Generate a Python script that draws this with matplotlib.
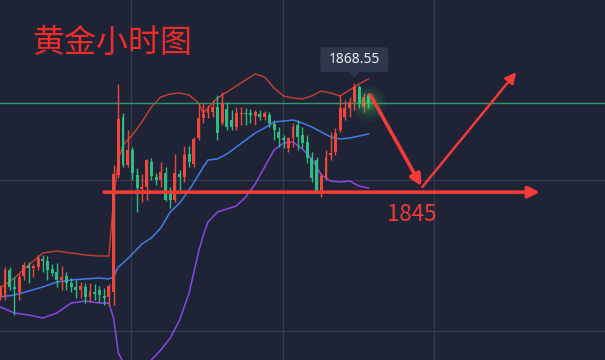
import matplotlib
matplotlib.use('Agg')
import matplotlib.pyplot as plt
from matplotlib.patches import FancyBboxPatch, Polygon
from matplotlib.transforms import ScaledTranslation

plt.rcParams['font.family'] = ['Noto Sans CJK SC', 'DejaVu Sans']

# ---------------- data ----------------
opens = [1822.35, 1822.35, 1828.18, 1824.51, 1823.43, 1826.88, 1829.04, 1828.72, 1828.83, 1830.56,
         1830.12, 1828.40, 1827.75, 1826.02, 1826.88, 1825.37, 1824.51, 1823.86, 1824.51, 1822.35,
         1823.43, 1823.86, 1822.46, 1822.35, 1823.43, 1848.70, 1861.23, 1850.86, 1854.10, 1848.70,
         1845.78, 1846.11, 1851.51, 1848.27, 1847.62, 1849.13, 1844.81, 1843.30, 1848.92, 1848.27,
         1853.24, 1851.08, 1856.69, 1861.01, 1862.09, 1862.31, 1863.39, 1859.93, 1862.96, 1860.58,
         1859.07, 1861.88, 1862.09, 1862.09, 1861.44, 1861.88, 1861.23, 1861.66, 1859.72, 1857.99,
         1856.69, 1854.53, 1856.69, 1859.50, 1857.34, 1855.83, 1852.37, 1851.94, 1845.03, 1848.27,
         1853.02, 1853.67, 1858.42, 1861.23, 1863.17, 1864.47, 1867.71, 1863.39, 1865.98]
closes = [1824.29, 1828.18, 1824.51, 1824.08, 1826.67, 1829.26, 1828.61, 1828.94, 1830.77, 1830.12,
          1828.18, 1827.53, 1826.02, 1826.67, 1825.37, 1824.51, 1823.86, 1824.72, 1822.35, 1823.64,
          1823.10, 1822.78, 1822.24, 1824.72, 1848.92, 1860.80, 1850.86, 1854.10, 1849.13, 1845.89,
          1846.00, 1851.94, 1848.48, 1847.62, 1849.35, 1843.30, 1843.30, 1849.13, 1848.27, 1853.02,
          1851.51, 1856.48, 1861.01, 1861.88, 1862.74, 1863.39, 1857.77, 1864.25, 1859.07, 1859.07,
          1862.09, 1862.09, 1861.77, 1861.66, 1862.31, 1861.23, 1862.09, 1859.93, 1858.42, 1856.69,
          1856.26, 1856.69, 1859.07, 1856.91, 1855.61, 1852.37, 1848.05, 1845.03, 1848.48, 1852.59,
          1853.45, 1857.77, 1863.17, 1863.17, 1864.47, 1867.71, 1864.25, 1865.55, 1864.25]
highs = [1824.94, 1828.83, 1828.83, 1826.67, 1827.32, 1829.90, 1829.90, 1829.47, 1831.42, 1831.42,
         1831.20, 1829.47, 1829.69, 1829.04, 1827.75, 1826.45, 1826.02, 1825.59, 1825.37, 1825.37,
         1825.16, 1824.72, 1824.29, 1825.16, 1850.86, 1868.36, 1862.09, 1858.42, 1854.75, 1850.21,
         1848.92, 1852.16, 1852.37, 1849.13, 1851.51, 1850.43, 1846.11, 1853.24, 1849.78, 1854.96,
         1854.96, 1856.91, 1864.04, 1864.25, 1863.82, 1864.90, 1865.98, 1866.63, 1864.47, 1862.74,
         1863.39, 1863.39, 1863.17, 1862.96, 1862.74, 1862.74, 1862.52, 1862.31, 1860.58, 1859.07,
         1857.34, 1856.91, 1859.93, 1860.58, 1859.07, 1857.34, 1853.67, 1852.59, 1849.13, 1854.10,
         1857.99, 1858.85, 1865.98, 1864.90, 1865.55, 1868.55, 1868.14, 1866.41, 1866.41]
lows = [1821.70, 1821.70, 1823.86, 1818.46, 1821.70, 1826.02, 1825.37, 1826.67, 1828.18, 1827.75,
        1826.02, 1826.88, 1824.51, 1823.86, 1823.86, 1823.43, 1822.13, 1822.13, 1821.05, 1821.27,
        1821.70, 1821.27, 1820.62, 1820.62, 1820.62, 1848.05, 1850.43, 1850.43, 1847.62, 1840.71,
        1842.87, 1843.30, 1847.62, 1846.54, 1846.11, 1843.08, 1841.57, 1842.87, 1845.46, 1847.19,
        1850.43, 1850.43, 1856.26, 1859.93, 1861.01, 1861.23, 1856.26, 1859.50, 1858.42, 1858.42,
        1858.42, 1859.50, 1859.50, 1859.93, 1859.50, 1860.58, 1860.58, 1859.07, 1856.26, 1854.75,
        1854.53, 1853.67, 1854.75, 1854.10, 1854.53, 1851.29, 1847.19, 1844.81, 1843.95, 1847.62,
        1851.94, 1853.02, 1857.99, 1860.58, 1861.23, 1862.74, 1863.17, 1862.31, 1863.17]

band_idx = [0, 3, 6, 9, 12, 15, 18, 21, 23, 24, 25, 26, 28, 30, 32, 34, 36, 38, 40, 42,
            43, 44, 46, 48, 50, 52, 54, 56, 58, 60, 62, 64, 66, 68, 70, 72, 74, 76, 78]
upper_band = [1824.29, 1826.45, 1829.26, 1831.85, 1832.28, 1831.85, 1831.42, 1831.20, 1831.20, 1843.30,
              1851.94, 1855.18, 1857.34, 1860.15, 1863.39, 1865.55, 1866.20, 1866.41, 1865.98, 1864.25,
              1862.09, 1863.17, 1865.33, 1866.63, 1867.92, 1869.22, 1870.52, 1869.87, 1867.49, 1865.76,
              1865.33, 1865.12, 1865.76, 1866.84, 1866.41, 1865.76, 1867.06, 1868.36, 1869.44]
middle_band = [1822.35, 1822.78, 1823.64, 1824.51, 1825.59, 1826.02, 1826.24, 1826.45, 1826.24, 1826.67,
               1828.83, 1829.69, 1831.64, 1833.80, 1835.09, 1837.25, 1840.71, 1842.65, 1845.46, 1848.70,
               1850.43, 1851.94, 1852.16, 1853.24, 1854.75, 1856.26, 1857.77, 1858.85, 1860.15, 1860.36,
               1860.58, 1859.93, 1859.07, 1857.99, 1856.91, 1856.48, 1856.69, 1857.12, 1857.56]
lower_band = [1820.19, 1818.89, 1818.46, 1817.81, 1818.89, 1821.05, 1821.48, 1821.05, 1821.05, 1817.81,
              1810.25, 1808.31, 1804.85, 1804.42, 1808.74, 1810.90, 1813.49, 1817.38, 1823.21, 1832.07,
              1835.74, 1838.55, 1840.71, 1841.36, 1842.00, 1843.95, 1846.76, 1850.43, 1854.10, 1855.61,
              1855.83, 1854.32, 1852.16, 1848.70, 1847.40, 1847.19, 1847.40, 1846.32, 1845.89]

last_price = 1864.25
support_level = 1845
peak_label = "1868.55"
title_text = "黄金小时图"
support_text = "1845"

# ---------------- styling ----------------
BG = '#1e2436'
RED = '#f0473c'
GREEN = '#2fbb82'
ARROW = '#f23a36'

fig = plt.figure(figsize=(6.05, 3.6), dpi=100, facecolor=BG)
ax = fig.add_axes([0, 0, 1, 1])
ax.set_facecolor(BG)
ax.set_xlim(-0.06, 128.1)
ax.set_ylim(1808.74, 1886.5)
for s in ax.spines.values():
    s.set_visible(False)

ax.set_xticks([27.7, 59.9, 91.9])
ax.set_yticks([1815.0, 1847.6])
ax.grid(True, color='#363c4e', lw=0.9)
ax.tick_params(length=0, labelbottom=False, labelleft=False)
ax.set_axisbelow(True)

# Bollinger bands
ax.plot(band_idx, upper_band, color='#c8412f', lw=1.0, zorder=2)
ax.plot(band_idx, middle_band, color='#3f7de3', lw=1.1, zorder=2)
ax.plot(band_idx, lower_band, color='#8b46e6', lw=1.1, zorder=2)

# candles
n = len(opens)
xs = list(range(n))
cols = [RED if c >= o else GREEN for o, c in zip(opens, closes)]
ax.vlines(xs, lows, highs, colors=cols, lw=1.0, zorder=3)
bottoms = [min(o, c) for o, c in zip(opens, closes)]
heights = [max(abs(c - o), 0.25) for o, c in zip(opens, closes)]
ax.bar(xs, heights, bottom=bottoms, width=0.62, color=cols, lw=0, zorder=4)

# last price line and glow
ax.axhline(last_price, color='#2f9a6b', lw=1.0, zorder=2.5)
for s, a in [(700, 0.05), (450, 0.07), (260, 0.09), (130, 0.12), (50, 0.18)]:
    ax.scatter([n - 1], [last_price], s=s, color='#45e05a', alpha=a, lw=0, zorder=5)

# support arrow
ax.annotate('', xy=(114.3, support_level), xytext=(22.0, support_level),
            arrowprops=dict(arrowstyle='-|>', mutation_scale=17, lw=2.6, color=ARROW,
                            shrinkA=0, shrinkB=0), zorder=6)
# down arrow
ax.annotate('', xy=(89.2, 1846.3), xytext=(78.4, 1866.0),
            arrowprops=dict(arrowstyle='-|>', mutation_scale=17, lw=2.6, color=ARROW,
                            shrinkA=0, shrinkB=0), zorder=6)
# up arrow
ax.annotate('', xy=(109.3, 1870.9), xytext=(89.4, 1846.1),
            arrowprops=dict(arrowstyle='-|>', mutation_scale=16, lw=1.8, color=ARROW,
                            shrinkA=0, shrinkB=0), zorder=6)

ax.text(81.9, support_level - 4.9, support_text, color=ARROW, fontsize=16,
        ha='left', va='center', zorder=7)

fig.text(32 / 605, 1 - 43 / 360, title_text, color='#ee2d2a', fontsize=23,
         ha='left', va='center')

# peak label box
imax = max(range(n), key=lambda i: highs[i])
tr = fig.dpi_scale_trans + ScaledTranslation(imax, highs[imax], ax.transData)
box = FancyBboxPatch((-0.34, 0.11), 0.68, 0.25, boxstyle='round,pad=0,rounding_size=0.03',
                     fc='#2e374b', ec='none', transform=tr, zorder=8)
ax.add_patch(box)
ax.add_patch(Polygon([[-0.05, 0.115], [0.05, 0.115], [0.0, 0.05]], closed=True,
                     fc='#2e374b', ec='none', transform=tr, zorder=8))
ax.text(0, 0.235, peak_label, transform=tr, color='#e8ecf2', fontsize=10,
        family=['Noto Sans', 'DejaVu Sans'], ha='center', va='center', zorder=9)

fig.savefig('out.png', dpi=100, facecolor=BG)
